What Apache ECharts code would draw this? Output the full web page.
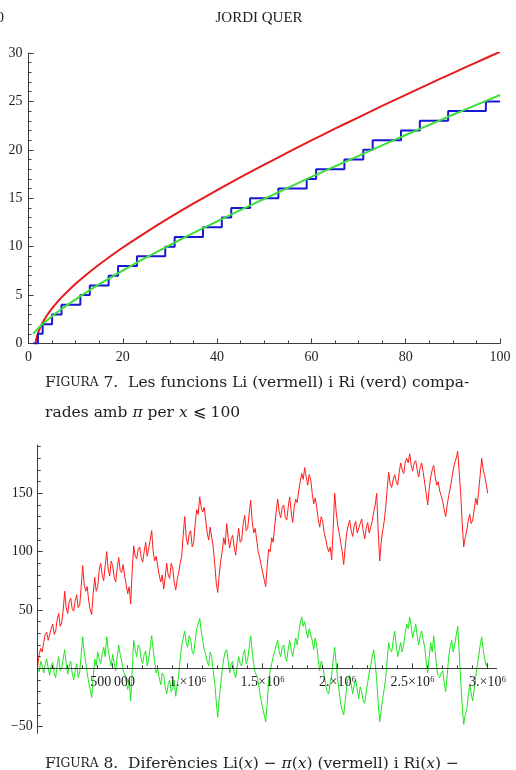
<!DOCTYPE html>
<html>
<head>
<meta charset="utf-8">
<script src="https://cdn.jsdelivr.net/npm/echarts@6/dist/echarts.min.js"></script>
<style>
  html, body { margin: 0; padding: 0; background: #fff; }
  #chart { width: 516px; height: 770px; }
</style>
</head>
<body>
<div id="chart"></div>
<script>
// Figura 7: Li(x), Ri(x) i pi(x) per x <= 100
var liX = [1.45, 1.5, 1.6, 1.75, 2, 2.5, 3, 4, 5, 6, 7, 8, 10, 12, 15, 20, 25, 30, 35, 40, 45, 50, 55, 60, 65, 70, 75, 80, 85, 90, 95, 100];
var liY = [0, 0.13, 0.35, 0.65, 1.05, 1.67, 2.16, 2.97, 3.63, 4.22, 4.76, 5.25, 6.17, 7.0, 8.16, 9.91, 11.51, 13.02, 14.46, 15.84, 17.17, 18.47, 19.73, 20.97, 22.18, 23.36, 24.53, 25.68, 26.81, 27.93, 29.03, 30.13];
var riX = [1, 1.5, 2, 3, 4, 5, 7, 10, 12, 15, 20, 25, 30, 35, 40, 45, 50, 55, 60, 65, 70, 75, 80, 85, 90, 95, 100];
var riY = [1, 1.28, 1.54, 2.01, 2.43, 2.82, 3.56, 4.56, 5.2, 6.13, 7.53, 8.89, 10.17, 11.42, 12.62, 13.79, 14.94, 16.08, 17.2, 18.3, 19.38, 20.46, 21.53, 22.58, 23.62, 24.64, 25.66];
var primes = [2, 3, 5, 7, 11, 13, 17, 19, 23, 29, 31, 37, 41, 43, 47, 53, 59, 61, 67, 71, 73, 79, 83, 89, 97];

// Figura 8: Li(x) - pi(x) i Ri(x) - pi(x), un valor cada 10000
var diffStep = 10000;
var liDiff = [
  2, 12, 17, 14, 22, 29, 31, 24, 25, 34,
  38, 29, 32, 42, 47, 36, 39, 50, 66, 52,
  47, 57, 60, 51, 49, 58, 63, 52, 54, 70,
  88, 72, 66, 70, 58, 50, 46, 64, 78, 66,
  70, 84, 90, 80, 75, 88, 100, 85, 79, 92,
  88, 78, 74, 86, 95, 84, 82, 89, 79, 72,
  64, 70, 55, 84, 105, 96, 94, 102, 104, 95,
  91, 100, 108, 96, 97, 110, 118, 100, 92, 96,
  88, 80, 74, 80, 68, 78, 90, 80, 77, 90,
  86, 74, 67, 76, 82, 90, 96, 114, 130, 112,
  106, 115, 118, 104, 108, 124, 136, 132, 147, 138,
  134, 138, 127, 116, 110, 121, 120, 104, 90, 74,
  65, 80, 92, 100, 112, 106, 124, 112, 103, 111,
  114, 104, 97, 110, 120, 108, 110, 124, 131, 118,
  120, 133, 144, 126, 116, 120, 110, 100, 95, 88,
  82, 76, 70, 88, 102, 100, 112, 108, 122, 134,
  145, 134, 129, 138, 140, 130, 127, 138, 147, 134,
  125, 138, 145, 142, 152, 160, 167, 162, 172, 164,
  157, 166, 162, 150, 141, 146, 138, 128, 121, 130,
  126, 116, 111, 104, 100, 104, 93, 120, 150, 134,
  123, 116, 108, 100, 89, 104, 116, 122, 127, 118,
  113, 122, 126, 116, 117, 124, 128, 118, 111, 120,
  125, 116, 117, 126, 134, 140, 150, 118, 92, 108,
  118, 126, 138, 154, 168, 158, 155, 162, 166, 160,
  157, 168, 176, 170, 167, 176, 180, 176, 184, 174,
  169, 176, 178, 170, 164, 172, 176, 168, 159, 150,
  140, 154, 164, 170, 174, 164, 157, 160, 152, 148,
  143, 136, 130, 140, 148, 154, 162, 170, 176, 180,
  186, 168, 150, 124, 104, 112, 118, 126, 132, 124,
  127, 136, 146, 140, 152, 166, 180, 170, 165, 158,
  150
];
var riDiff = [
  0, -3, 6, 2, -4, 4, 8, 0, -6, 2,
  5, -4, -8, 3, 10, -2, 0, 8, 16, 4,
  -5, 2, 6, -4, -10, -2, 4, -8, -3, 12,
  27, 14, 5, -4, -12, -18, -25, -8, 8, 2,
  14, 8, 4, 12, 18, 10, 27, 16, 8, 2,
  12, 4, -2, 10, 20, 12, 6, -2, -5, -12,
  -18, -10, -28, -2, 24, 16, 10, 20, 18, 8,
  4, 12, 15, 2, 8, 18, 28, 16, 5, -4,
  0, -8, -14, -4, -6, -16, -22, -14, -10, -20,
  -18, -10, -24, -14, -6, 8, 20, 26, 32, 22,
  18, 28, 24, 14, 12, 24, 34, 38, 43, 32,
  24, 16, 12, 6, 2, 14, 10, -2, -12, -28,
  -42, -26, -14, -2, 8, 14, 16, 6, -4, 4,
  6, -4, -8, 2, 10, 4, 2, 12, 16, 4,
  8, 18, 28, 14, 4, -4, -6, -12, -20, -28,
  -34, -40, -46, -30, -10, -2, 4, 10, 14, 20,
  24, 14, 10, 18, 20, 10, 6, 16, 24, 16,
  10, 18, 26, 20, 30, 38, 44, 36, 40, 32,
  26, 34, 34, 24, 16, 26, 20, 8, -2, 6,
  2, -6, -14, -20, -22, -12, -6, 8, 18, 4,
  -10, -20, -30, -36, -40, -28, -16, -8, -6, -14,
  -22, -14, -10, -18, -26, -16, -20, -28, -30, -20,
  -12, -4, 2, 10, 16, 4, -10, -30, -46, -36,
  -26, -18, -8, 8, 22, 16, 14, 24, 32, 20,
  10, 16, 22, 14, 20, 30, 38, 34, 44, 36,
  26, 32, 38, 28, 20, 28, 32, 24, 18, 6,
  -4, 10, 22, 14, 28, 14, 0, -6, -8, -4,
  -2, -12, -20, -6, 10, 18, 24, 14, 20, 28,
  36, 14, -10, -32, -48, -40, -36, -24, -14, -22,
  -28, -18, -8, 2, 10, 20, 27, 16, 8, 2,
  5
];
var xTicks8 = [500000, 1000000, 1500000, 2000000, 2500000, 3000000];
var xTickLabels8 = ['500\u2009000', '1.\u00d710\u2076', '1.5\u00d710\u2076', '2.\u00d710\u2076', '2.5\u00d710\u2076', '3.\u00d710\u2076'];
var yTicks8 = [-50, 50, 100, 150];
var yTickLabels8 = ['\u221250', '50', '100', '150'];

var serif = '"Liberation Serif", "DejaVu Serif", serif';
var capFont = '"DejaVu Serif", "Liberation Serif", serif';
var axisCol = '#3c3c3c';
var labelCol = '#1e1e1e';

// marges de la figura 8 (l'eix x passa per y = 0)
var y8Min = -55.7, y8Max = 191.4;
var g8Top = 445, g8Height = 288.3;
var g8ZeroHeight = g8Height * y8Max / (y8Max - y8Min);

function pairs(xs, ys) {
  return xs.map(function (x, i) { return [x, ys[i]]; });
}

var piData = [[1, 0]];
primes.forEach(function (p, i) { piData.push([p, i + 1]); });
piData.push([100, primes.length]);

var liDiffData = liDiff.map(function (v, i) { return [i * diffStep, v]; });
var riDiffData = riDiff.map(function (v, i) { return [i * diffStep, v]; });

// ticks menors de la figura 8
var xMinor8 = [];
for (var t = 100000; t <= 3000000; t += 100000) xMinor8.push(t);
var yMinor8 = [];
for (var u = -50; u <= 190; u += 10) yMinor8.push(u);

function labelFor(values, labels) {
  return function (v) {
    var k = values.indexOf(Math.round(v));
    return k < 0 ? '' : labels[k];
  };
}

var tickLine = { color: axisCol, width: 1 };
var lblStyle = { fontFamily: serif, fontSize: 14, color: labelCol };
var capRich = {
  b: { fontFamily: capFont, fontSize: 15.5, fill: '#222' },
  s: { fontFamily: capFont, fontSize: 12.2, fill: '#222' },
  i: { fontFamily: capFont, fontSize: 15.5, fontStyle: 'italic', fill: '#222' }
};

var option = {
  animation: false,
  backgroundColor: '#fff',
  grid: [
    { left: 28.5, top: 53, width: 471.5, height: 290.5 },
    { left: 37.7, top: g8Top, width: 459, height: g8Height },
    // nomes per a l'eix x de la figura 8, que acaba a y = 0
    { left: 37.7, top: g8Top, width: 459, height: g8ZeroHeight }
  ],
  xAxis: [
    {
      gridIndex: 0, type: 'value', position: 'bottom', min: 0, max: 100, interval: 20,
      axisLine: { onZero: false, lineStyle: tickLine },
      axisTick: { inside: true, length: 5, lineStyle: tickLine },
      minorTick: { show: true, splitNumber: 4, length: 3, lineStyle: tickLine },
      axisLabel: Object.assign({ margin: 7 }, lblStyle),
      splitLine: { show: false }
    },
    { gridIndex: 1, type: 'value', min: 0, max: 3060000, show: false },
    {
      gridIndex: 2, type: 'value', position: 'bottom', min: 0, max: 3060000, z: 5,
      axisLine: { onZero: false, lineStyle: tickLine },
      axisTick: { inside: true, length: 5, lineStyle: tickLine, customValues: xTicks8 },
      axisLabel: Object.assign({ margin: 7, customValues: xTicks8, formatter: labelFor(xTicks8, xTickLabels8) }, lblStyle),
      splitLine: { show: false }
    },
    {
      gridIndex: 2, type: 'value', position: 'bottom', min: 0, max: 3060000, z: 5,
      axisLine: { onZero: false, lineStyle: tickLine },
      axisTick: { inside: true, length: 3, lineStyle: tickLine, customValues: xMinor8 },
      axisLabel: { show: false },
      splitLine: { show: false }
    }
  ],
  yAxis: [
    {
      gridIndex: 0, type: 'value', position: 'left', min: 0, max: 30, interval: 5,
      axisLine: { show: true, onZero: false, lineStyle: tickLine },
      axisTick: { show: true, inside: true, length: 5, lineStyle: tickLine },
      minorTick: { show: true, splitNumber: 5, length: 3, lineStyle: tickLine },
      axisLabel: Object.assign({ margin: 6 }, lblStyle),
      splitLine: { show: false }
    },
    {
      gridIndex: 1, type: 'value', position: 'left', min: y8Min, max: y8Max, z: 5,
      axisLine: { show: true, onZero: false, lineStyle: tickLine },
      axisTick: { show: true, inside: true, length: 5, lineStyle: tickLine, customValues: [-50, 0, 50, 100, 150] },
      axisLabel: Object.assign({ margin: 5, customValues: yTicks8, formatter: labelFor(yTicks8, yTickLabels8) }, lblStyle),
      splitLine: { show: false }
    },
    {
      gridIndex: 1, type: 'value', position: 'left', min: y8Min, max: y8Max, z: 5,
      axisLine: { show: false, onZero: false },
      axisTick: { show: true, inside: true, length: 3, lineStyle: tickLine, customValues: yMinor8 },
      axisLabel: { show: false },
      splitLine: { show: false }
    },
    { gridIndex: 2, type: 'value', min: 0, max: 1, show: false }
  ],
  series: [
    {
      name: 'Li', type: 'line', xAxisIndex: 0, yAxisIndex: 0, data: pairs(liX, liY),
      smooth: 0.25, showSymbol: false,
      lineStyle: { color: '#e61b1b', width: 2 }
    },
    {
      name: 'pi', type: 'line', xAxisIndex: 0, yAxisIndex: 0, data: piData,
      step: 'end', showSymbol: false,
      lineStyle: { color: '#1717d6', width: 2 }
    },
    {
      name: 'Ri', type: 'line', xAxisIndex: 0, yAxisIndex: 0, data: pairs(riX, riY),
      smooth: 0.25, showSymbol: false,
      lineStyle: { color: '#3bdc3b', width: 2 }
    },
    {
      name: 'Li - pi', type: 'line', xAxisIndex: 1, yAxisIndex: 1, data: liDiffData,
      showSymbol: false, lineStyle: { color: '#ff1c1c', width: 1 }
    },
    {
      name: 'Ri - pi', type: 'line', xAxisIndex: 1, yAxisIndex: 1, data: riDiffData,
      showSymbol: false, lineStyle: { color: '#1ee61e', width: 1 }
    }
  ],
  graphic: [
    { type: 'text', x: 4, y: 18, style: { text: '10', fontFamily: serif, fontSize: 15, fill: '#222', align: 'right', verticalAlign: 'middle' } },
    { type: 'text', x: 259, y: 18, style: { text: 'JORDI QUER', fontFamily: serif, fontSize: 15, fill: '#222', align: 'center', verticalAlign: 'middle' } },
    {
      type: 'text', x: 45, y: 383,
      style: {
        text: '{b|F}{s|IGURA}{b| 7.  Les funcions Li (vermell) i Ri (verd) compa-}',
        verticalAlign: 'middle', rich: capRich
      }
    },
    {
      type: 'text', x: 45, y: 413,
      style: {
        text: '{b|rades amb }{i|\u03c0}{b| per }{i|x}{b| \u2a7d 100}',
        verticalAlign: 'middle', rich: capRich
      }
    },
    {
      type: 'text', x: 45, y: 764,
      style: {
        text: '{b|F}{s|IGURA}{b| 8.  Difer\u00e8ncies Li(}{i|x}{b|) \u2212 }{i|\u03c0}{b|(}{i|x}{b|) (vermell) i Ri(}{i|x}{b|) \u2212}',
        verticalAlign: 'middle', rich: capRich
      }
    }
  ]
};

var chart = echarts.init(document.getElementById('chart'), null, { renderer: 'canvas' });
chart.setOption(option);
</script>
</body>
</html>
